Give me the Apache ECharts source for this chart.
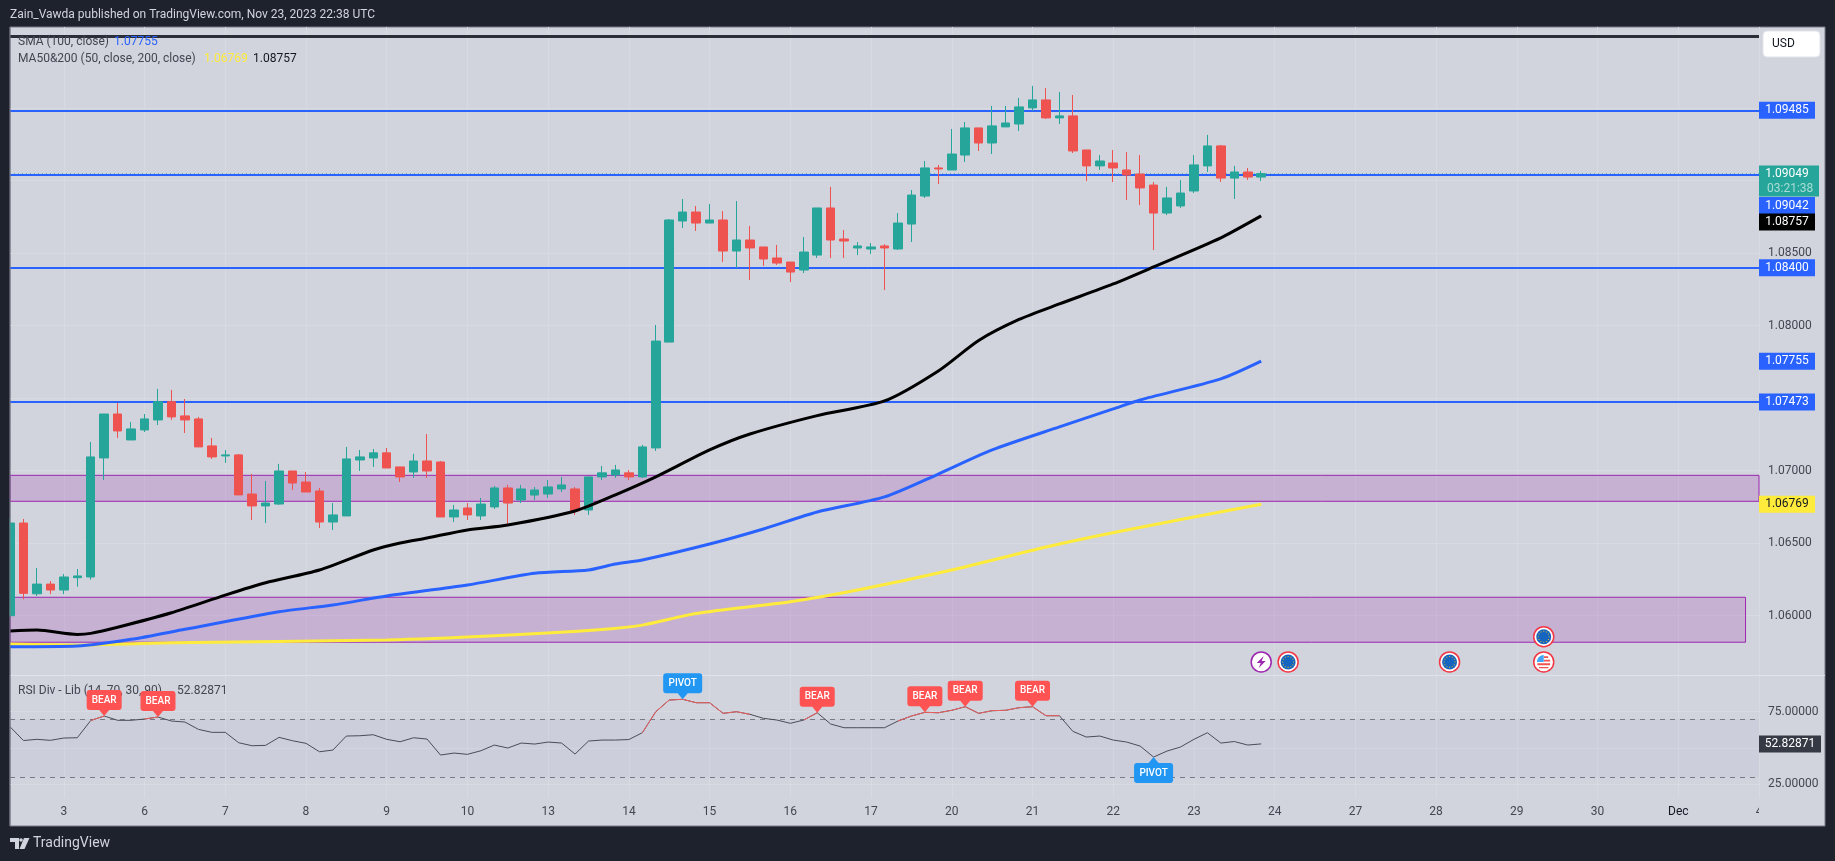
<!DOCTYPE html>
<html>
<head>
<meta charset="utf-8">
<title>EURUSD 4h</title>
<style>
  html, body { margin: 0; padding: 0; background: #1e222d; }
  #chart { width: 1835px; height: 861px; }
</style>
<script src="https://cdn.jsdelivr.net/npm/echarts@6/dist/echarts.min.js"></script>
</head>
<body>
<div id="chart"></div>
<script>
// 4h candles, one entry per bar
const openPrices = [
  1.06000,1.06639,1.06151,1.06218,1.06177,1.06262,1.06267,1.07088,1.07391,1.07212,
  1.07281,1.07350,1.07476,1.07378,1.07357,1.07171,1.07102,1.07109,1.06839,1.06757,
  1.06770,1.06998,1.06922,1.06860,1.06646,1.06688,1.07074,1.07088,1.07123,1.07026,
  1.06991,1.07067,1.07060,1.06681,1.06743,1.06688,1.06750,1.06881,1.06798,1.06832,
  1.06839,1.06874,1.06874,1.06729,1.06957,1.06971,1.06985,1.06957,1.07157,1.07887,
  1.08722,1.08784,1.08708,1.08729,1.08515,1.08591,1.08543,1.08467,1.08439,1.08384,
  1.08487,1.08812,1.08598,1.08536,1.08529,1.08550,1.08529,1.08701,1.08894,1.09088,
  1.09074,1.09177,1.09364,1.09260,1.09371,1.09391,1.09502,1.09557,1.09433,1.09447,
  1.09212,1.09102,1.09122,1.09074,1.09046,1.08970,1.08777,1.08826,1.08929,1.09102,
  1.09240,1.09018,1.09060,1.09025
];
const closePrices = [
  1.06639,1.06154,1.06218,1.06177,1.06267,1.06274,1.07095,1.07391,1.07274,1.07288,
  1.07357,1.07476,1.07371,1.07350,1.07164,1.07095,1.07109,1.06833,1.06757,1.06777,
  1.06998,1.06915,1.06853,1.06646,1.06695,1.07081,1.07095,1.07123,1.07019,1.06957,
  1.07067,1.06998,1.06681,1.06729,1.06695,1.06770,1.06881,1.06777,1.06874,1.06867,
  1.06888,1.06902,1.06722,1.06957,1.06985,1.07005,1.06957,1.07164,1.07894,1.08729,
  1.08784,1.08708,1.08729,1.08515,1.08591,1.08536,1.08460,1.08432,1.08370,1.08508,
  1.08812,1.08591,1.08584,1.08550,1.08543,1.08536,1.08708,1.08901,1.09088,1.09081,
  1.09184,1.09364,1.09260,1.09378,1.09398,1.09509,1.09557,1.09433,1.09447,1.09205,
  1.09102,1.09136,1.09088,1.09039,1.08950,1.08777,1.08881,1.08915,1.09109,1.09240,
  1.09018,1.09060,1.09025,1.09049
];
const lowPrices = [
  1.06000,1.06113,1.06136,1.06149,1.06149,1.06200,1.06249,1.06936,1.07226,1.07212,
  1.07267,1.07315,1.07350,1.07260,1.07164,1.07081,1.07054,1.06833,1.06660,1.06639,
  1.06764,1.06867,1.06853,1.06605,1.06591,1.06688,1.06998,1.07026,1.07019,1.06922,
  1.06950,1.06950,1.06681,1.06646,1.06660,1.06660,1.06736,1.06632,1.06777,1.06798,
  1.06812,1.06853,1.06695,1.06695,1.06936,1.06950,1.06936,1.06950,1.07136,1.07887,
  1.08674,1.08653,1.08708,1.08439,1.08398,1.08315,1.08412,1.08419,1.08301,1.08363,
  1.08467,1.08467,1.08467,1.08487,1.08494,1.08246,1.08522,1.08577,1.08881,1.08977,
  1.09074,1.09129,1.09205,1.09184,1.09371,1.09343,1.09481,1.09426,1.09391,1.09191,
  1.08998,1.09074,1.08991,1.08867,1.08832,1.08522,1.08763,1.08812,1.08915,1.09060,
  1.08991,1.08874,1.09005,1.08998
];
const highPrices = [
  1.06674,1.06667,1.06329,1.06239,1.06287,1.06322,1.07198,1.07391,1.07467,1.07336,
  1.07391,1.07564,1.07557,1.07495,1.07371,1.07226,1.07143,1.07116,1.06978,1.06929,
  1.07047,1.06998,1.06991,1.06881,1.06777,1.07164,1.07143,1.07150,1.07157,1.07026,
  1.07116,1.07253,1.07067,1.06764,1.06777,1.06812,1.06895,1.06902,1.06902,1.06888,
  1.06936,1.06957,1.06888,1.06957,1.07033,1.07040,1.07005,1.07178,1.08005,1.08736,
  1.08874,1.08826,1.08840,1.08791,1.08860,1.08688,1.08543,1.08557,1.08439,1.08612,
  1.08812,1.08957,1.08660,1.08577,1.08570,1.08563,1.08777,1.08936,1.09136,1.09109,
  1.09357,1.09405,1.09364,1.09516,1.09516,1.09571,1.09654,1.09640,1.09612,1.09591,
  1.09212,1.09177,1.09212,1.09198,1.09177,1.08991,1.08957,1.09005,1.09177,1.09316,
  1.09247,1.09102,1.09088,1.09067
];

// moving averages, [bar, price]
const sma50Points = [
  [0,1.05894],[2,1.05901],[5,1.05871],[6,1.05878],[8,1.05920],[12,1.06020],[16,1.06142],
  [19,1.06227],[23,1.06315],[27,1.06453],[29,1.06501],[31,1.06536],[34,1.06591],[37,1.06625],
  [42,1.06722],[45,1.06833],[48,1.06957],[52,1.07143],[55,1.07253],[60,1.07380],[65,1.07481],
  [69,1.07688],[72,1.07898],[75,1.08043],[78,1.08150],[82,1.08288],[85,1.08405],[90,1.08605],[93,1.08757]
];
const sma100Points = [
  [0,1.05786],[5,1.05791],[9,1.05837],[13,1.05906],[20,1.06027],[24,1.06074],[28,1.06136],
  [34,1.06212],[39,1.06292],[43,1.06315],[45,1.06356],[47,1.06384],[52,1.06494],[56,1.06598],
  [60,1.06715],[65,1.06819],[69,1.06977],[73,1.07143],[78,1.07302],[82,1.07426],[84,1.07488],
  [90,1.07633],[93,1.07755]
];
const sma200Points = [
  [0,1.05804],[5,1.05797],[12,1.05813],[28,1.05832],[36,1.05861],[44,1.05905],[47,1.05935],
  [51,1.06015],[58,1.06096],[63,1.06177],[70,1.06315],[77,1.06474],[83,1.06591],[93,1.06769]
];

// RSI, one entry per bar
const rsiValues = [
  64.66,55.14,55.97,55.28,56.86,57.07,68.93,72.03,69.07,69.07,
  69.97,71.34,68.59,67.90,62.86,60.79,60.79,53.62,51.55,51.83,
  57.34,55.00,53.21,47.41,48.59,58.24,58.45,59.14,55.97,54.31,
  57.07,56.17,45.14,46.52,45.62,48.10,52.03,49.97,53.41,52.72,
  54.10,53.41,45.83,54.79,55.48,55.48,55.83,60.52,75.00,83.07,
  83.55,81.21,81.21,73.90,75.00,73.21,70.45,69.28,67.00,69.28,
  74.31,66.52,63.97,63.97,63.97,63.97,68.59,72.03,74.59,74.31,
  75.97,78.45,73.90,75.69,75.97,77.76,78.45,72.24,72.24,61.48,
  57.55,58.24,55.48,54.10,51.34,43.76,47.90,50.66,55.97,60.52,
  53.41,54.45,52.03,52.83
];
const rsiRedRanges = [[6,7],[10,11],[47,55],[59,60],[66,78]];
const bearBars = [7,11,60,68,71,76];
const pivotTopBars = [50];
const pivotBottomBars = [85];

// levels and zones
const blueLevels = [1.09485,1.09042,1.08400,1.07473];
const topLevel = 1.09996;
const lastPrice = 1.09049;
const zoneUpper = [1.06968,1.06789];
const zoneLower = [1.06127,1.05817];
const priceTicks = [1.085,1.08,1.07,1.065,1.06];
const priceGrid = [1.095,1.09,1.085,1.08,1.075,1.07,1.065,1.06];
const rsiTicks = [75,25];
const rsiGrid = [75,50,25];

// time axis
const dayBars = [4,10,16,22,28,34,40,46,52,58,64,70,76,82,88,94,100,106,112,118,124,130];
const dayLabels = ['3','6','7','8','9','10','13','14','15','16','17','20','21','22','23','24','27','28','29','30','Dec','4'];

// calendar event icons: [bar, price]
const euEvents = [[95,1.05681],[107,1.05681],[114,1.05855]];
const usEvents = [[114,1.05681]];
const flashEvents = [[93,1.05681]];

const FONT = 'Roboto';
const BG = '#d1d4dc';
const FRAME = '#1e222d';
const GRID_LINE = '#d7dae1';
const TEXT = '#434651';

const categories = Array.from({ length: 131 }, (_, i) => {
  const at = dayBars.indexOf(i);
  return at >= 0 ? dayLabels[at] : '';
});
const isDay = (i) => dayBars.indexOf(i) >= 0;

const candleData = openPrices.map((o, i) => [o, closePrices[i], lowPrices[i], highPrices[i]]);
const rsiRed = rsiValues.map((v, i) => (rsiRedRanges.some(r => i >= r[0] && i <= r[1]) ? v : null));

const BEAR_PATH = 'path://M3 0H32Q35 0 35 3V17Q35 20 32 20H22.5L17.5 26L12.5 20H3Q0 20 0 17V3Q0 0 3 0Z';
const PIVOT_TOP_PATH = 'path://M3 0H36Q39 0 39 3V17Q39 20 36 20H24.5L19.5 26L14.5 20H3Q0 20 0 17V3Q0 0 3 0Z';
const PIVOT_BOTTOM_PATH = 'path://M3 6H14.5L19.5 0L24.5 6H36Q39 6 39 9V23Q39 26 36 26H3Q0 26 0 23V9Q0 6 3 6Z';

// EU icon: a ring of small dots
let starPath = 'path://';
for (let k = 0; k < 12; k++) {
  const cx = 7 + 6 * Math.cos(k * Math.PI / 6);
  const cy = 7 + 6 * Math.sin(k * Math.PI / 6);
  starPath += `M${(cx - 0.6).toFixed(2)} ${(cy - 0.6).toFixed(2)}h1.2v1.2h-1.2Z`;
}
const US_RED = 'path://M0 0h.01v.01zM14 14h.01v.01zM7.2 1.2H11.5V3H7.2ZM7.2 4.8H13.4V6.6H7.2ZM.6 8.4H13.4V10.2H.6ZM2.3 12H11.7V13.2H2.3Z';
const US_BLUE = 'path://M0 0h.01v.01zM14 14h.01v.01zM.1 7A7 7 0 0 1 7 .1V7Z';
const BOLT = 'path://M7 0L0 7H4L2 12L9 5H5Z';

function iconLayer(name, data, symbol, size, color, z, border) {
  return {
    name, type: 'scatter', xAxisIndex: 0, yAxisIndex: 0, data, symbol, symbolSize: size, clip: false,
    z, silent: true,
    itemStyle: { color, borderColor: border || color, borderWidth: border ? 1.5 : 0, opacity: 1 }
  };
}

// value tags on the price scale; dy moves a tag that would overlap its neighbour
const priceTags = [
  { value: 1.09485, text: '1.09485', bg: '#2962ff', color: '#fff', dy: 0 },
  { value: 1.09042, text: '1.09042', bg: '#2962ff', color: '#fff', dy: 31 },
  { value: 1.08757, text: '1.08757', bg: '#000000', color: '#fff', dy: 6 },
  { value: 1.08400, text: '1.08400', bg: '#2962ff', color: '#fff', dy: 0 },
  { value: 1.07755, text: '1.07755', bg: '#2962ff', color: '#fff', dy: 0 },
  { value: 1.07473, text: '1.07473', bg: '#2962ff', color: '#fff', dy: 0 },
  { value: 1.06769, text: '1.06769', bg: '#ffeb3b', color: '#131722', dy: 0 }
];

const panelGraphics = [
  { type: 'rect', z: -10, shape: { x: 10, y: 27, width: 1815, height: 799 },
    style: { fill: BG, stroke: '#787b86', lineWidth: 1 } },
  { type: 'line', z: 1, shape: { x1: 10, y1: 675.5, x2: 1825, y2: 675.5 },
    style: { stroke: '#e0e3eb', lineWidth: 1 } },
  // candle cut off by the left edge of the pane
  { type: 'rect', z: 50, shape: { x: 0, y: 28, width: 9.5, height: 648 }, style: { fill: FRAME } },
  { type: 'line', z: 51, shape: { x1: 10, y1: 27, x2: 10, y2: 826 }, style: { stroke: '#787b86', lineWidth: 1 } },
  // hides the right half of the last, cut-off date label
  { type: 'rect', z: 50, shape: { x: 1759, y: 800, width: 60, height: 24 }, style: { fill: BG } },
  { type: 'rect', z: 60, shape: { x: 1763, y: 31, width: 57, height: 26, r: 4 },
    style: { fill: '#ffffff', stroke: '#e0e3eb', lineWidth: 1 } },
  { type: 'text', z: 61, x: 1772, y: 44, style: { text: 'USD', fill: '#131722', font: `12px ${FONT}`, verticalAlign: 'middle' } },
  // indicator legend
  { type: 'text', z: 61, x: 18, y: 42, style: { text: 'SMA (100, close)', fill: TEXT, font: `12px ${FONT}`, verticalAlign: 'middle' } },
  { type: 'text', z: 61, x: 114, y: 42, style: { text: '1.07755', fill: '#2962ff', font: `12px ${FONT}`, verticalAlign: 'middle' } },
  { type: 'text', z: 61, x: 18, y: 59, style: { text: 'MA50&200 (50, close, 200, close)', fill: TEXT, font: `12px ${FONT}`, verticalAlign: 'middle' } },
  { type: 'text', z: 61, x: 204, y: 59, style: { text: '1.06769', fill: '#ffeb3b', font: `12px ${FONT}`, verticalAlign: 'middle' } },
  { type: 'text', z: 61, x: 253, y: 59, style: { text: '1.08757', fill: '#131722', font: `12px ${FONT}`, verticalAlign: 'middle' } },
  { type: 'text', z: 5, x: 18, y: 691, style: { text: 'RSI Div - Lib (14, 70, 30, 90)', fill: TEXT, font: `12px ${FONT}`, verticalAlign: 'middle' } },
  { type: 'text', z: 5, x: 177, y: 691, style: { text: '52.82871', fill: TEXT, font: `12px ${FONT}`, verticalAlign: 'middle' } },
  // countdown under the last price
  { type: 'text', z: 61, x: 1767, y: 188.5, style: { text: '03:21:38', fill: '#a8dcd6', font: `12px ${FONT}`, verticalAlign: 'middle' } },
  // footer logo
  { type: 'polygon', z: 61, shape: { points: [[10,838],[19,838],[19,849],[15,849],[15,842],[10,842]] }, style: { fill: '#d1d4dc' } },
  { type: 'circle', z: 61, shape: { cx: 21, cy: 840, r: 1.8 }, style: { fill: '#d1d4dc' } },
  { type: 'polygon', z: 61, shape: { points: [[24,838],[29.5,838],[24.5,849],[19.5,849]] }, style: { fill: '#d1d4dc' } },
  { type: 'text', z: 61, x: 33, y: 843.5, style: { text: 'TradingView', fill: '#d1d4dc', font: `14px ${FONT}`, verticalAlign: 'middle' } }
];

const chart = echarts.init(document.getElementById('chart'));
chart.setOption({
  animation: false,
  backgroundColor: FRAME,
  textStyle: { fontFamily: FONT },
  title: {
    text: 'Zain_Vawda published on TradingView.com, Nov 23, 2023 22:38 UTC',
    left: 10, top: 9, padding: 0,
    textStyle: { color: '#d1d4dc', fontSize: 12, fontWeight: 'normal', fontFamily: FONT }
  },
  graphic: panelGraphics,
  grid: [
    { left: 10, right: 76, top: 27, height: 648 },
    { left: 10, right: 76, top: 675, height: 123 }
  ],
  xAxis: [
    {
      type: 'category', gridIndex: 0, data: categories, boundaryGap: false,
      axisLine: { show: false }, axisTick: { show: false }, axisLabel: { show: false },
      splitLine: { show: true, interval: (i) => isDay(i), lineStyle: { color: GRID_LINE, width: 1 } }
    },
    {
      type: 'category', gridIndex: 1, data: categories, boundaryGap: false,
      axisLine: { show: false }, axisTick: { show: false },
      axisLabel: {
        show: true, interval: (i) => isDay(i), hideOverlap: false, margin: 8,
        fontSize: 12, fontFamily: FONT,
        color: (v) => (v === 'Dec' ? '#131722' : TEXT)
      },
      splitLine: { show: true, interval: (i) => isDay(i), lineStyle: { color: GRID_LINE, width: 1 } }
    }
  ],
  yAxis: [
    {
      type: 'value', gridIndex: 0, position: 'right', min: 1.05591, max: 1.1006, scale: true,
      axisLine: { show: false }, axisTick: { show: false }, splitLine: { show: false },
      axisLabel: {
        customValues: priceTicks, margin: 9, fontSize: 12, fontFamily: FONT, color: TEXT,
        formatter: (v) => v.toFixed(5)
      }
    },
    {
      type: 'value', gridIndex: 1, position: 'right', min: 15.55, max: 100.3,
      axisLine: { show: false }, axisTick: { show: false }, splitLine: { show: false },
      axisLabel: {
        customValues: rsiTicks, margin: 9, fontSize: 12, fontFamily: FONT, color: TEXT,
        formatter: (v) => v.toFixed(5)
      }
    }
  ],
  series: [
    // grid lines, levels and zones sit behind the candles
    {
      name: 'grid', type: 'line', xAxisIndex: 0, yAxisIndex: 0, data: [], silent: true, z: 0,
      markLine: {
        z: 0, silent: true, symbol: 'none', label: { show: false }, precision: 5,
        lineStyle: { color: GRID_LINE, type: 'solid', width: 1 },
        data: priceGrid.map(v => ({ yAxis: v }))
      }
    },
    {
      name: 'zones', type: 'line', xAxisIndex: 0, yAxisIndex: 0, data: [], silent: true, z: 1,
      markArea: {
        z: 1, silent: true,
        itemStyle: { color: 'rgba(156,39,176,0.2)', borderColor: '#9c27b0', borderWidth: 1 },
        data: [
          [{ xAxis: 0, yAxis: zoneUpper[0] }, { xAxis: 130, yAxis: zoneUpper[1] }],
          [{ xAxis: 0, yAxis: zoneLower[0] }, { xAxis: 129, yAxis: zoneLower[1] }]
        ]
      }
    },
    {
      name: 'levels', type: 'line', xAxisIndex: 0, yAxisIndex: 0, data: [], silent: true, z: 1,
      markLine: {
        z: 1, silent: true, symbol: 'none', label: { show: false }, precision: 5,
        data: blueLevels.map(v => ({ yAxis: v, lineStyle: { color: '#2962ff', type: 'solid', width: 2 } }))
          .concat([
            { yAxis: topLevel, lineStyle: { color: '#2a2e39', type: 'solid', width: 3 } },
            { yAxis: lastPrice, lineStyle: { color: '#26a69a', type: [1, 3], width: 1, opacity: 0.6 } }
          ])
      }
    },
    {
      name: 'EURUSD', type: 'candlestick', xAxisIndex: 0, yAxisIndex: 0, data: candleData,
      barWidth: 9, z: 3,
      itemStyle: {
        color: '#26a69a', color0: '#ef5350',
        borderColor: '#26a69a', borderColor0: '#ef5350', borderWidth: 1
      }
    },
    {
      name: 'MA200', type: 'line', xAxisIndex: 0, yAxisIndex: 0, data: sma200Points, showSymbol: false, z: 4,
      smooth: 0.25, lineStyle: { color: '#ffeb3b', width: 3 }
    },
    {
      name: 'SMA100', type: 'line', xAxisIndex: 0, yAxisIndex: 0, data: sma100Points, showSymbol: false, z: 5,
      smooth: 0.25, lineStyle: { color: '#2962ff', width: 3 }
    },
    {
      name: 'MA50', type: 'line', xAxisIndex: 0, yAxisIndex: 0, data: sma50Points, showSymbol: false, z: 5,
      smooth: 0.25, lineStyle: { color: '#000000', width: 3 }
    },
    // calendar events
    iconLayer('euBase', euEvents, 'circle', 20, '#ffffff', 6, '#f23645'),
    iconLayer('euBlue', euEvents, 'circle', 15, '#1565c0', 7),
    iconLayer('euStars', euEvents, starPath, 12, '#c9b037', 8),
    iconLayer('usBase', usEvents, 'circle', 20, '#ffffff', 6, '#f23645'),
    iconLayer('usRed', usEvents, US_RED, 14, '#ef5350', 7),
    iconLayer('usBlue', usEvents, US_BLUE, 14, '#42a5f5', 8),
    iconLayer('flashBase', flashEvents, 'circle', 20, '#ffffff', 6, '#9c27b0'),
    iconLayer('flashBolt', flashEvents, BOLT, [9, 12], '#9c27b0', 7),
    // tags on the price scale
    {
      name: 'priceTags', type: 'scatter', xAxisIndex: 0, yAxisIndex: 0, clip: false, silent: true, z: 20,
      symbol: 'rect', symbolSize: [56, 17],
      data: priceTags.map(t => ({
        value: [130, t.value],
        symbolOffset: [28, t.dy],
        itemStyle: { color: t.bg, opacity: 1 },
        label: { show: true, position: 'inside', formatter: t.text, color: t.color, fontFamily: FONT, fontSize: 12, offset: [0, 0] }
      }))
    },
    {
      name: 'lastTag', type: 'scatter', xAxisIndex: 0, yAxisIndex: 0, clip: false, silent: true, z: 19,
      symbol: 'rect', symbolSize: [60, 31],
      data: [{
        value: [130, lastPrice],
        symbolOffset: [30, 7.5],
        itemStyle: { color: '#26a69a', opacity: 1 },
        label: { show: true, position: 'inside', formatter: lastPrice.toFixed(5), color: '#fff', fontFamily: FONT, fontSize: 12, offset: [-2, -7] }
      }]
    },
    // RSI pane
    {
      name: 'rsiGrid', type: 'line', xAxisIndex: 1, yAxisIndex: 1, data: [], silent: true, z: 0,
      markLine: {
        z: 0, silent: true, symbol: 'none', label: { show: false },
        lineStyle: { color: GRID_LINE, type: 'solid', width: 1 },
        data: rsiGrid.map(v => ({ yAxis: v }))
      }
    },
    {
      name: 'rsiBand', type: 'line', xAxisIndex: 1, yAxisIndex: 1, data: [], silent: true, z: 1,
      markArea: {
        z: 1, silent: true, itemStyle: { color: 'rgba(126,87,194,0.04)' },
        data: [[{ xAxis: 0, yAxis: 70 }, { xAxis: 130, yAxis: 30 }]]
      },
      markLine: {
        z: 1, silent: true, symbol: 'none', label: { show: false },
        lineStyle: { color: '#787b86', type: [5, 5], width: 1 },
        data: [{ yAxis: 70 }, { yAxis: 30 }]
      }
    },
    {
      name: 'RSI', type: 'line', xAxisIndex: 1, yAxisIndex: 1, data: rsiValues, showSymbol: false, z: 3,
      lineStyle: { color: '#4a4c57', width: 1 }
    },
    {
      name: 'RSI div', type: 'line', xAxisIndex: 1, yAxisIndex: 1, data: rsiRed, showSymbol: false, z: 4,
      lineStyle: { color: '#ef5f60', width: 1 }
    },
    {
      name: 'BEAR', type: 'scatter', xAxisIndex: 1, yAxisIndex: 1, z: 6, silent: true,
      symbol: BEAR_PATH, symbolSize: [35, 26], symbolOffset: [0, -13],
      data: bearBars.map(i => [i, rsiValues[i]]),
      itemStyle: { color: '#ff5252', opacity: 1 },
      label: { show: true, position: 'inside', formatter: 'BEAR', color: '#fff', fontSize: 10, fontWeight: 500, fontFamily: FONT, offset: [0, -3] }
    },
    {
      name: 'PIVOT top', type: 'scatter', xAxisIndex: 1, yAxisIndex: 1, z: 6, silent: true,
      symbol: PIVOT_TOP_PATH, symbolSize: [39, 26], symbolOffset: [0, -13],
      data: pivotTopBars.map(i => [i, rsiValues[i]]),
      itemStyle: { color: '#2196f3', opacity: 1 },
      label: { show: true, position: 'inside', formatter: 'PIVOT', color: '#fff', fontSize: 10, fontWeight: 500, fontFamily: FONT, offset: [0, -3] }
    },
    {
      name: 'PIVOT bottom', type: 'scatter', xAxisIndex: 1, yAxisIndex: 1, z: 6, silent: true,
      symbol: PIVOT_BOTTOM_PATH, symbolSize: [39, 26], symbolOffset: [0, 13],
      data: pivotBottomBars.map(i => [i, rsiValues[i]]),
      itemStyle: { color: '#2196f3', opacity: 1 },
      label: { show: true, position: 'inside', formatter: 'PIVOT', color: '#fff', fontSize: 10, fontWeight: 500, fontFamily: FONT, offset: [0, 3] }
    },
    {
      name: 'rsiTag', type: 'scatter', xAxisIndex: 1, yAxisIndex: 1, clip: false, silent: true, z: 20,
      symbol: 'rect', symbolSize: [62, 17], symbolOffset: [31, 0],
      data: [[130, rsiValues[93]]],
      itemStyle: { color: '#363a45', opacity: 1 },
      label: { show: true, position: 'inside', formatter: '52.82871', color: '#fff', fontSize: 12, fontFamily: FONT }
    }
  ]
});
</script>
</body>
</html>
